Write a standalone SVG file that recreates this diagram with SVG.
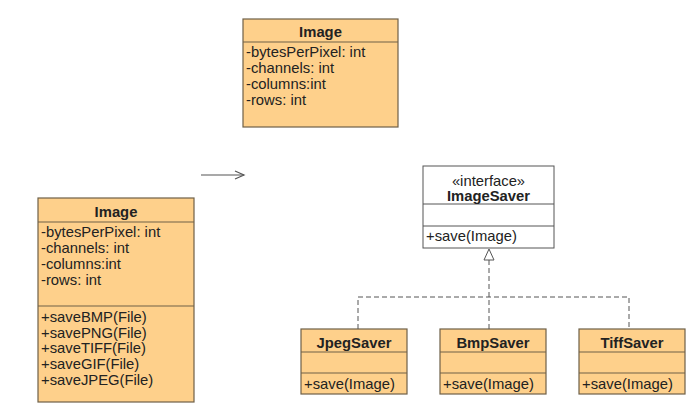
<svg xmlns="http://www.w3.org/2000/svg" width="695" height="418" viewBox="0 0 695 418">
<defs>
<style>
.box{fill:#fed08b;stroke:#6e6048;stroke-width:1.2}
.wbox{fill:#ffffff;stroke:#555555;stroke-width:1}
.sep{stroke:#6e6048;stroke-width:1.2}
.wsep{stroke:#555555;stroke-width:1}
text{font-family:"Liberation Sans",Arial,sans-serif;font-size:14.8px;fill:#222222}
.t{font-weight:bold;text-anchor:middle}
.c{text-anchor:middle}
.dash{fill:none;stroke:#555555;stroke-width:1;stroke-dasharray:5,3}
</style>
<marker id="open" markerWidth="12" markerHeight="10" refX="10" refY="5" orient="auto" markerUnits="userSpaceOnUse">
<path d="M1,1 L10,5 L1,9" fill="none" stroke="#555555" stroke-width="1.2"/>
</marker>
</defs>
<rect width="695" height="418" fill="#ffffff"/>
<g id="image-top">
<rect class="box" x="243" y="19" width="155" height="108"/>
<line class="sep" x1="243" y1="42" x2="398" y2="42"/>
<text class="t" x="320.5" y="37">Image</text>
<text x="246" y="57">-bytesPerPixel: int</text>
<text x="246" y="73">-channels: int</text>
<text x="246" y="89">-columns:int</text>
<text x="246" y="105">-rows: int</text>
</g>
<g id="image-left">
<rect class="box" x="38" y="198" width="156" height="204"/>
<line class="sep" x1="38" y1="222" x2="194" y2="222"/>
<line class="sep" x1="38" y1="306" x2="194" y2="306"/>
<text class="t" x="116" y="217">Image</text>
<text x="41" y="237">-bytesPerPixel: int</text>
<text x="41" y="253">-channels: int</text>
<text x="41" y="269">-columns:int</text>
<text x="41" y="285">-rows: int</text>
<text x="41" y="322">+saveBMP(File)</text>
<text x="41" y="338">+savePNG(File)</text>
<text x="41" y="353">+saveTIFF(File)</text>
<text x="41" y="369">+saveGIF(File)</text>
<text x="41" y="385">+saveJPEG(File)</text>
</g>
<g id="imagesaver">
<rect class="wbox" x="423" y="166" width="131" height="82"/>
<line class="wsep" x1="423" y1="204" x2="554" y2="204"/>
<line class="wsep" x1="423" y1="226" x2="554" y2="226"/>
<text class="c" x="488.5" y="186">«interface»</text>
<text class="t" x="488.5" y="201">ImageSaver</text>
<text x="426" y="241">+save(Image)</text>
</g>
<g id="jpegsaver">
<rect class="box" x="301" y="329" width="106" height="65"/>
<line class="sep" x1="301" y1="352" x2="407" y2="352"/>
<line class="sep" x1="301" y1="373" x2="407" y2="373"/>
<text class="t" x="354" y="348">JpegSaver</text>
<text x="304" y="389">+save(Image)</text>
</g>
<g id="bmpsaver">
<rect class="box" x="440" y="329" width="106" height="65"/>
<line class="sep" x1="440" y1="352" x2="546" y2="352"/>
<line class="sep" x1="440" y1="373" x2="546" y2="373"/>
<text class="t" x="493" y="348">BmpSaver</text>
<text x="443" y="389">+save(Image)</text>
</g>
<g id="tiffsaver">
<rect class="box" x="579" y="329" width="106" height="65"/>
<line class="sep" x1="579" y1="352" x2="685" y2="352"/>
<line class="sep" x1="579" y1="373" x2="685" y2="373"/>
<text class="t" x="632" y="348">TiffSaver</text>
<text x="582" y="389">+save(Image)</text>
</g>
<g id="connectors">
<line x1="201" y1="175" x2="244" y2="175" stroke="#555555" stroke-width="1.2" marker-end="url(#open)"/>
<path class="dash" d="M489,260 L489,329"/>
<path class="dash" d="M358,329 L358,297 L629,297 L629,329"/>
<path d="M489,249 L484,260 L494,260 Z" fill="#ffffff" stroke="#555555" stroke-width="1"/>
</g>
</svg>
